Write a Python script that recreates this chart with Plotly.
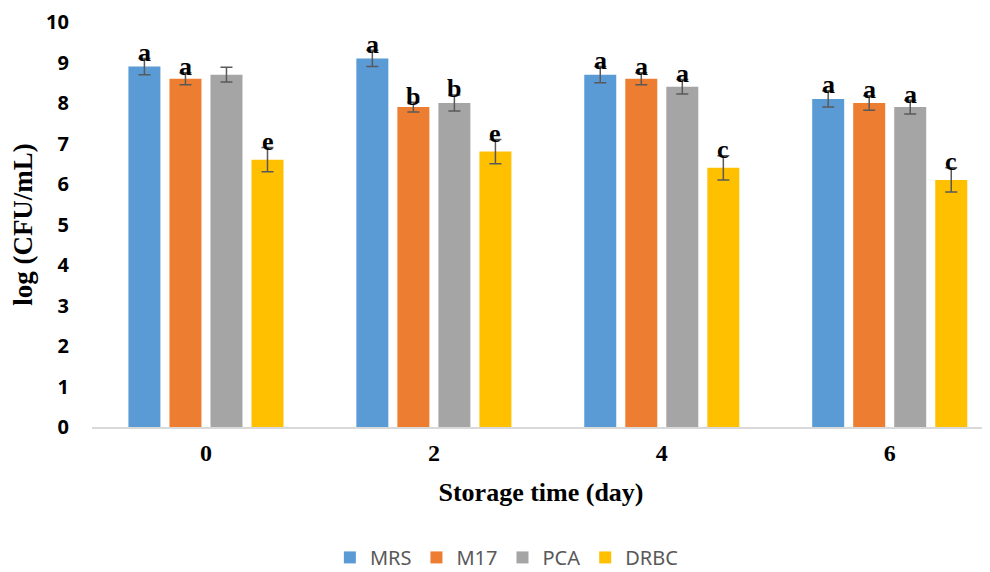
import plotly.graph_objects as go

days = ["0", "2", "4", "6"]
series_names = ["MRS", "M17", "PCA", "DRBC"]
colors = ["#5B9BD5", "#ED7D31", "#A5A5A5", "#FFC000"]

mrs = [8.9, 9.1, 8.7, 8.1]
m17 = [8.6, 7.9, 8.6, 8.0]
pca = [8.7, 8.0, 8.4, 7.9]
drbc = [6.6, 6.8, 6.4, 6.1]

mrs_err = [0.2, 0.2, 0.2, 0.2]
m17_err = [0.15, 0.12, 0.15, 0.18]
pca_err = [0.18, 0.2, 0.18, 0.17]
drbc_err = [0.3, 0.3, 0.3, 0.3]

mrs_letters = ["a", "a", "a", "a"]
m17_letters = ["a", "b", "a", "a"]
pca_letters = ["", "b", "a", "a"]
drbc_letters = ["e", "e", "c", "c"]

values = [mrs, m17, pca, drbc]
errors = [mrs_err, m17_err, pca_err, drbc_err]
letters = [mrs_letters, m17_letters, pca_letters, drbc_letters]

fig = go.Figure()
for name, col, v, e in zip(series_names, colors, values, errors):
    fig.add_trace(go.Bar(
        x=days, y=v, name=name, marker=dict(color=col, line=dict(width=0)),
        error_y=dict(type="data", array=e, color="#595959", thickness=1.5, width=6),
    ))

bargap = 0.28
bargroupgap = 0.22
n = len(series_names)
slot = (1 - bargap) / n
for i, (v, e, lab) in enumerate(zip(values, errors, letters)):
    off = -0.5 * (1 - bargap) + slot * (i + 0.5)
    for j, d in enumerate(days):
        if not lab[j]:
            continue
        fig.add_annotation(
            x=j + off, y=v[j] + e[j], xref="x", yref="y", text=lab[j],
            showarrow=False, yanchor="middle", yshift=6,
            font=dict(family="Liberation Serif", size=26, color="#000000", weight="bold"),
        )

# page body has an 8px margin, so the figure is sized to fill the rest of the window
fig.update_layout(
    width=982, height=564, autosize=False,
    margin=dict(l=84, r=0, t=14, b=145, autoexpand=False),
    plot_bgcolor="white", paper_bgcolor="white",
    barmode="group", bargap=bargap, bargroupgap=bargroupgap,
    showlegend=True,
    legend=dict(orientation="h", x=0.462, xanchor="center", y=-0.322, yanchor="middle",
                font=dict(family="Noto Sans", size=20, color="#595959"),
                itemwidth=30, traceorder="normal"),
    xaxis=dict(type="category", range=[-0.5, 3.44], showline=True, linecolor="#D9D9D9",
               linewidth=1.5, showgrid=False, ticks="", automargin=False,
               ticklabelstandoff=3,
               tickfont=dict(family="Liberation Serif", size=24, color="#000000", weight="bold"),
               title=dict(text="Storage time (day)", standoff=18,
                          font=dict(family="Liberation Serif", size=26, color="#000000", weight="bold"))),
    yaxis=dict(range=[0, 10], dtick=1, showline=False, showgrid=False, zeroline=False, ticks="",
               ticklabelstandoff=22, automargin=False,
               tickfont=dict(family="Noto Sans", size=20, color="#000000", weight="bold"),
               title=dict(text="log (CFU/mL)", standoff=10,
                          font=dict(family="Liberation Serif", size=27, color="#000000", weight="bold"))),
)

fig.write_html("out.html")
